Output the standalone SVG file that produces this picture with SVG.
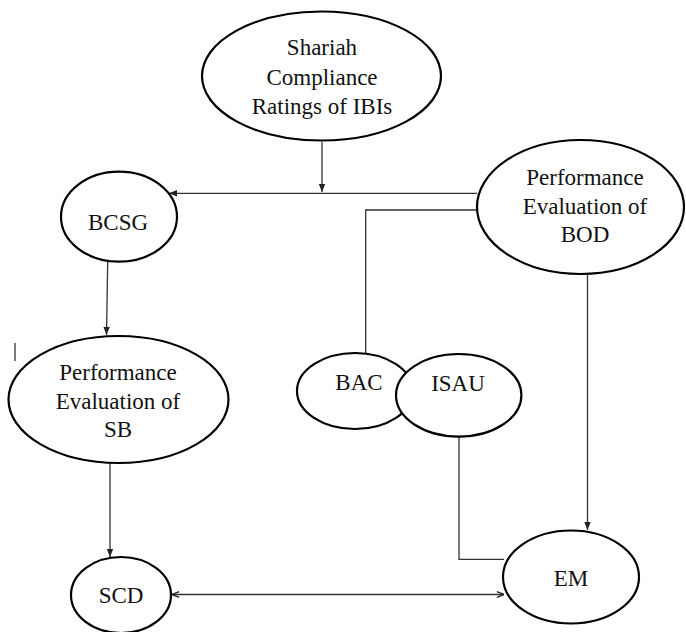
<svg xmlns="http://www.w3.org/2000/svg" width="686" height="632" viewBox="0 0 686 632">
<defs>
<style>
.node ellipse{fill:#fff;stroke:#000;stroke-width:2.2}
.node text{font-size:23px;fill:#111;text-anchor:middle}
.conn line,.conn polyline{fill:none;stroke:#333;stroke-width:1.3}
</style>
<marker id="arr" viewBox="0 0 10 10" refX="10" refY="5" markerWidth="8" markerHeight="8" markerUnits="userSpaceOnUse" orient="auto-start-reverse">
<path d="M0,1 L10,5 L0,9 Z" fill="#222"/>
</marker>
<marker id="open" viewBox="0 0 10 10" refX="10" refY="5" markerWidth="8" markerHeight="8" markerUnits="userSpaceOnUse" orient="auto-start-reverse">
<path d="M1,1.5 L10,5 L1,8.5" fill="none" stroke="#222" stroke-width="1.6"/>
</marker>
</defs>
<rect width="686" height="632" fill="#fff"/>
<g class="conn" id="connectors">
<line x1="322" y1="142" x2="322" y2="192" marker-end="url(#arr)"/>
<line x1="477" y1="193.3" x2="169" y2="193.3" marker-end="url(#arr)"/>
<polyline points="477,210 365.7,210 365.7,353"/>
<line x1="107.7" y1="262" x2="106.5" y2="335" marker-end="url(#arr)"/>
<line x1="110" y1="463" x2="110" y2="557" marker-end="url(#arr)"/>
<line x1="587.5" y1="274" x2="587.5" y2="530" marker-end="url(#arr)"/>
<polyline points="459,437 459,559.3 504,559.3"/>
<line x1="172" y1="594.5" x2="504" y2="594.5" marker-start="url(#open)" marker-end="url(#open)"/>
<line x1="15" y1="343" x2="15" y2="361" stroke="#999" stroke-width="1"/>
</g>
<g font-family="'Liberation Serif', 'Times New Roman', Times, serif">
<g class="node" id="shariah">
<ellipse cx="321.5" cy="76" rx="119.5" ry="64.5"/>
<text x="322" y="55">Shariah</text>
<text x="322" y="85">Compliance</text>
<text x="322" y="114">Ratings of IBIs</text>
</g>
<g class="node" id="bcsg">
<ellipse cx="119" cy="216.7" rx="58" ry="45"/>
<text x="118" y="230">BCSG</text>
</g>
<g class="node" id="bod">
<ellipse cx="580.5" cy="207" rx="103.5" ry="67"/>
<text x="585" y="185">Performance</text>
<text x="585" y="214">Evaluation of</text>
<text x="585" y="242">BOD</text>
</g>
<g class="node" id="sb">
<ellipse cx="118.5" cy="399.5" rx="110" ry="63.5"/>
<text x="118" y="380">Performance</text>
<text x="118" y="409">Evaluation of</text>
<text x="118" y="437">SB</text>
</g>
<g class="node" id="bac">
<ellipse cx="355" cy="391" rx="58" ry="38"/>
<text x="359" y="390">BAC</text>
</g>
<g class="node" id="isau">
<ellipse cx="458.7" cy="395.3" rx="62.7" ry="41.3"/>
<text x="458" y="391">ISAU</text>
</g>
<g class="node" id="scd">
<ellipse cx="121" cy="595" rx="50" ry="38"/>
<text x="121" y="603">SCD</text>
</g>
<g class="node" id="em">
<ellipse cx="571" cy="577" rx="68" ry="46.5"/>
<text x="571" y="586">EM</text>
</g>
</g>
</svg>
